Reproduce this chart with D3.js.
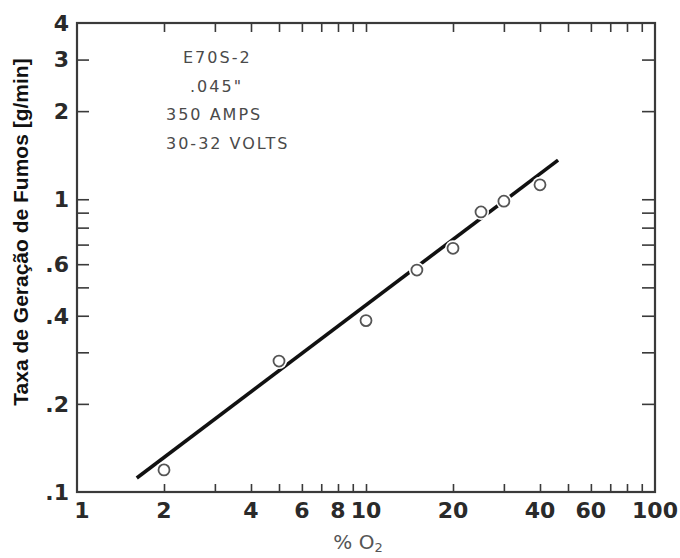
<!DOCTYPE html>
<html>
<head>
<meta charset="utf-8">
<script src="https://cdn.jsdelivr.net/npm/d3@7"></script>
<style>
  body { margin: 0; background: white; }
  svg { display: block; }
</style>
</head>
<body>
<div id="chart"></div>
<script>
// measured points, % O2 vs fume generation rate
const o2Pct = [2, 5, 10, 15, 20, 25, 30, 40];
const fumeRate = [0.119, 0.28, 0.385, 0.573, 0.68, 0.905, 0.985, 1.12];

// fitted line end points
const fitX = [1.61, 46.2];
const fitY = [0.1116, 1.36];

const xTickLabels = [1, 2, 4, 6, 8, 10, 20, 40, 60, 100];
const xMinorTicks = [2, 3, 4, 5, 6, 7, 8, 9, 10, 20, 30, 40, 50, 60, 70, 80, 90];
const yTickValues = [0.1, 0.2, 0.4, 0.6, 1, 2, 3, 4];
const yTickText = [".1", ".2", ".4", ".6", "1", "2", "3", "4"];
const yMinorTicks = [0.2, 0.3, 0.4, 0.5, 0.6, 0.7, 0.8, 0.9, 1, 2, 3];

const notes = ["E70S-2", ".045\"", "350 AMPS", "30-32 VOLTS"];

const w = 680;
const h = 558;
const plotL = 77, plotR = 655, plotT = 23, plotB = 492;

const x = d3.scaleLog().domain([1, 100]).range([plotL, plotR]);
const y = d3.scaleLog().domain([0.1, 4]).range([plotB, plotT]);

const svg = d3.select("#chart")
  .append("svg")
  .attr("width", w)
  .attr("height", h)
  .style("background", "white");

const axisColor = "#3a3a3a";

// frame ticks (inward) on all four sides
svg.append("g")
  .attr("transform", "translate(0," + plotB + ")")
  .call(d3.axisTop(x).tickValues(xMinorTicks).tickSize(8).tickFormat(""))
  .call(g => g.select(".domain").remove());
svg.append("g")
  .attr("transform", "translate(0," + plotT + ")")
  .call(d3.axisBottom(x).tickValues(xMinorTicks).tickSize(9).tickFormat(""))
  .call(g => g.select(".domain").remove());
svg.append("g")
  .attr("transform", "translate(" + plotL + ",0)")
  .call(d3.axisRight(y).tickValues(yMinorTicks).tickSize(12).tickFormat(""))
  .call(g => g.select(".domain").remove());
svg.append("g")
  .attr("transform", "translate(" + plotR + ",0)")
  .call(d3.axisLeft(y).tickValues(yMinorTicks).tickSize(13).tickFormat(""))
  .call(g => g.select(".domain").remove());

svg.selectAll(".tick line")
  .attr("stroke", axisColor)
  .attr("stroke-width", 1.6);

svg.append("rect")
  .attr("x", plotL)
  .attr("y", plotT)
  .attr("width", plotR - plotL)
  .attr("height", plotB - plotT)
  .attr("fill", "none")
  .attr("stroke", axisColor)
  .attr("stroke-width", 2.2);

// tick labels
const labelFont = "'DejaVu Sans', sans-serif";
svg.append("g")
  .selectAll("text")
  .data(xTickLabels)
  .enter()
  .append("text")
  .attr("x", d => x(d) + (d === 1 ? 5 : 0))
  .attr("y", 518)
  .attr("text-anchor", "middle")
  .style("font-family", labelFont)
  .style("font-weight", "bold")
  .style("font-size", "22px")
  .attr("fill", "#2a2a2a")
  .text(d => d);

svg.append("g")
  .selectAll("text")
  .data(yTickValues)
  .enter()
  .append("text")
  .attr("x", 69)
  .attr("y", d => y(d))
  .attr("dy", "0.36em")
  .attr("text-anchor", "end")
  .style("font-family", labelFont)
  .style("font-weight", "bold")
  .style("font-size", "22px")
  .attr("fill", "#2a2a2a")
  .text((d, i) => yTickText[i]);

// axis titles
const xTitle = svg.append("text")
  .attr("x", 358)
  .attr("y", 549)
  .attr("text-anchor", "middle")
  .style("font-family", labelFont)
  .style("font-size", "20px")
  .attr("fill", "#555");
xTitle.append("tspan").text("% O");
xTitle.append("tspan").attr("dy", 3).style("font-size", "13px").text("2");

svg.append("text")
  .attr("transform", "translate(28," + 232 + ") rotate(-90)")
  .attr("text-anchor", "middle")
  .style("font-family", "'Liberation Sans', Arial, sans-serif")
  .style("font-weight", "bold")
  .style("font-size", "21px")
  .attr("fill", "#111")
  .text("Taxa de Geração de Fumos [g/min]");

// annotation block
const noteX = [183, 190, 166, 166];
const noteY = [63, 92, 120, 149];
svg.append("g")
  .selectAll("text")
  .data(notes)
  .enter()
  .append("text")
  .attr("x", (d, i) => noteX[i])
  .attr("y", (d, i) => noteY[i])
  .style("font-family", labelFont)
  .style("font-size", "16px")
  .style("letter-spacing", "2px")
  .attr("fill", "#4a4a4a")
  .text(d => d);

// fitted line
const lineData = fitX.map((d, i) => [d, fitY[i]]);
svg.append("path")
  .datum(lineData)
  .attr("d", d3.line().x(d => x(d[0])).y(d => y(d[1])))
  .attr("stroke", "#111")
  .attr("stroke-width", 3.6)
  .attr("fill", "none");

// points with a white halo that breaks the line
const pts = o2Pct.map((d, i) => [d, fumeRate[i]]);
svg.append("g")
  .selectAll("circle")
  .data(pts)
  .enter()
  .append("circle")
  .attr("cx", d => x(d[0]))
  .attr("cy", d => y(d[1]))
  .attr("r", 8)
  .attr("fill", "white");

svg.append("g")
  .selectAll("circle")
  .data(pts)
  .enter()
  .append("circle")
  .attr("cx", d => x(d[0]))
  .attr("cy", d => y(d[1]))
  .attr("r", 5.5)
  .attr("fill", "white")
  .attr("stroke", "#555")
  .attr("stroke-width", 1.8);
</script>
</body>
</html>
